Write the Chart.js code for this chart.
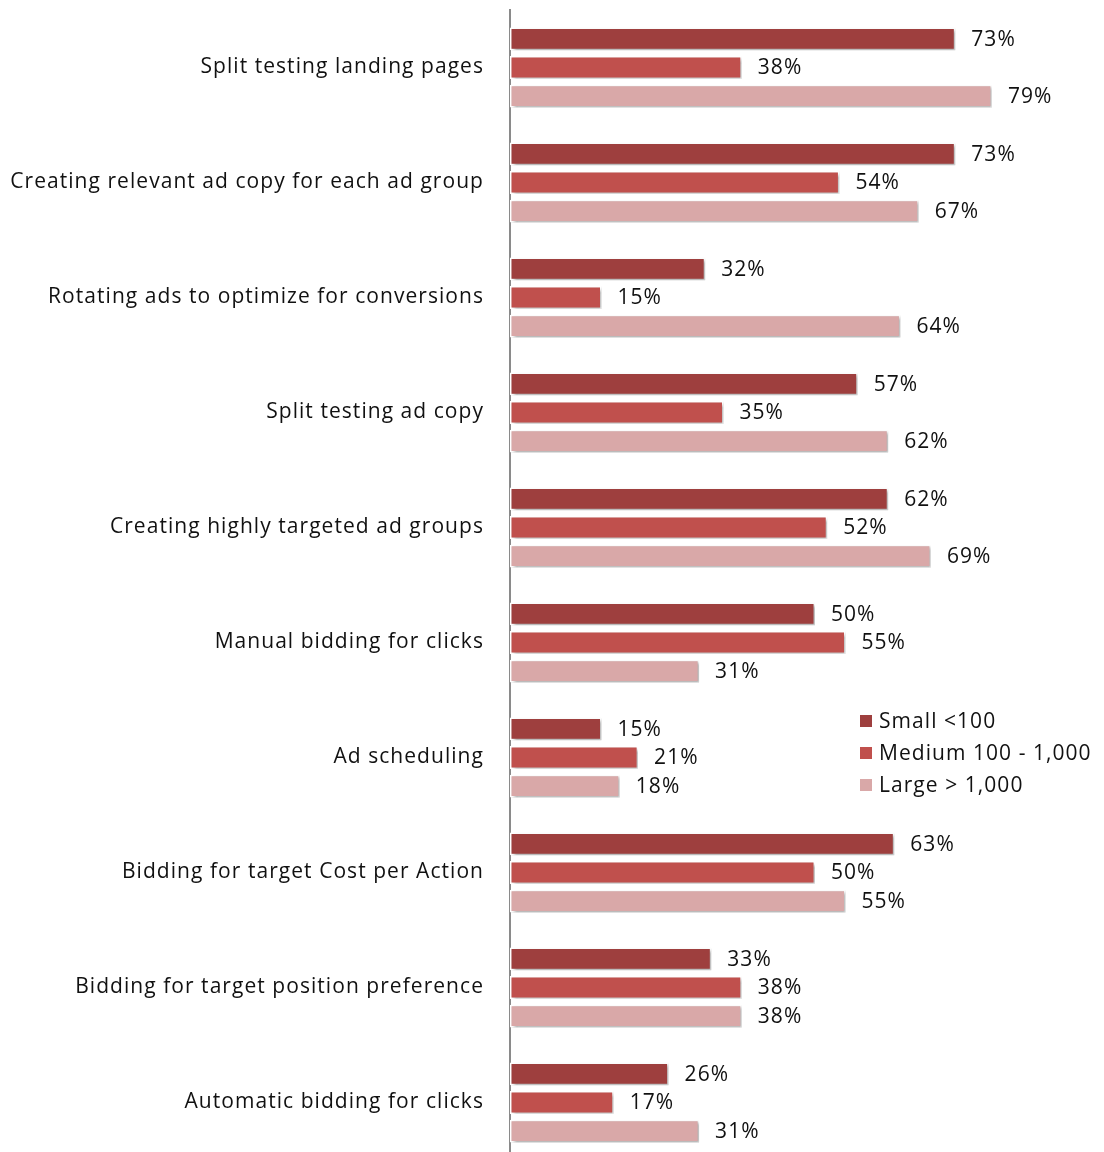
<!DOCTYPE html>
<html>
<head>
<meta charset="utf-8">
<script src="https://cdn.jsdelivr.net/npm/chart.js@4.4.0/dist/chart.umd.min.js"></script>
<style>
html,body{margin:0;padding:0;background:#fff;overflow:hidden;}
#wrap{width:1104px;height:1162px;position:relative;}
</style>
</head>
<body>
<div id="wrap"><canvas id="c"></canvas></div>
<script>
const categories = [
  "Split testing landing pages",
  "Creating relevant ad copy for each ad group",
  "Rotating ads to optimize for conversions",
  "Split testing ad copy",
  "Creating highly targeted ad groups",
  "Manual bidding for clicks",
  "Ad scheduling",
  "Bidding for target Cost per Action",
  "Bidding for target position preference",
  "Automatic bidding for clicks"
];
const seriesNames = ["Small <100", "Medium 100 - 1,000", "Large > 1,000"];
const smallValues  = [73, 73, 32, 57, 62, 50, 15, 63, 33, 26];
const mediumValues = [38, 54, 15, 35, 52, 55, 21, 50, 38, 17];
const largeValues  = [79, 67, 64, 62, 69, 31, 18, 55, 38, 31];
const colors = ["#9E3F3E", "#C0504D", "#D9A8A8"];

const FONT = "'Open Sans', sans-serif";
const FSIZE = 21;
const SPACING = "1.05px";

const spacingPlugin = {
  id: 'letterSpacing',
  beforeDraw(chart) {
    chart.ctx.letterSpacing = SPACING;
  }
};

const shadowPlugin = {
  id: 'barShadow',
  beforeDatasetsDraw(chart) {
    const ctx = chart.ctx;
    ctx.save();
    ctx.shadowColor = 'rgba(0,0,0,0.33)';
    ctx.shadowOffsetX = 2;
    ctx.shadowOffsetY = 2;
    ctx.shadowBlur = 3;
  },
  afterDatasetsDraw(chart) {
    chart.ctx.restore();
  }
};

const labelPlugin = {
  id: 'valueLabels',
  afterDatasetsDraw(chart) {
    const ctx = chart.ctx;
    ctx.save();
    ctx.letterSpacing = SPACING;
    ctx.font = FSIZE + "px " + FONT;
    ctx.fillStyle = "#111";
    ctx.textAlign = "left";
    ctx.textBaseline = "middle";
    chart.data.datasets.forEach((ds, i) => {
      const meta = chart.getDatasetMeta(i);
      meta.data.forEach((bar, j) => {
        ctx.fillText(ds.data[j] + "%", bar.x + 16, bar.y + 1);
      });
    });
    ctx.restore();
  }
};

const legendPlugin = {
  id: 'customLegend',
  afterDraw(chart) {
    const ctx = chart.ctx;
    ctx.save();
    ctx.letterSpacing = SPACING;
    ctx.font = FSIZE + "px " + FONT;
    ctx.textBaseline = "middle";
    ctx.textAlign = "left";
    const x0 = 860, y0 = 721, dy = 32;
    chart.data.datasets.forEach((ds, i) => {
      const y = y0 + i * dy;
      ctx.fillStyle = ds.backgroundColor;
      ctx.fillRect(x0, y - 6, 12, 12);
      ctx.fillStyle = "#111";
      ctx.fillText(ds.label, x0 + 19, y + 1);
    });
    ctx.restore();
  }
};

const chart = new Chart(document.getElementById('c'), {
  type: 'bar',
  data: {
    labels: categories,
    datasets: [
      { label: seriesNames[0], data: smallValues,  backgroundColor: colors[0] },
      { label: seriesNames[1], data: mediumValues, backgroundColor: colors[1] },
      { label: seriesNames[2], data: largeValues,  backgroundColor: colors[2] }
    ]
  },
  options: {
    indexAxis: 'y',
    responsive: true,
    maintainAspectRatio: false,
    animation: false,
    devicePixelRatio: 1,
    datasets: {
      bar: {
        categoryPercentage: 0.745,
        barPercentage: 0.8,
        borderColor: '#ffffff',
        borderWidth: 1.5,
        borderSkipped: false
      }
    },
    layout: { padding: { top: 10, bottom: 2, left: 0, right: 45 } },
    plugins: {
      legend: { display: false },
      tooltip: { enabled: false }
    },
    scales: {
      x: {
        display: false,
        min: 0,
        max: 90
      },
      y: {
        afterFit(scale) {
          scale.width = 510;
          scale.paddingTop = 0;
          scale.paddingBottom = 0;
        },
        grid: { display: false, drawTicks: false },
        border: { display: true, color: '#8a8a8a', width: 2 },
        ticks: {
          padding: 26,
          color: '#111',
          font: { family: FONT, size: FSIZE }
        }
      }
    }
  },
  plugins: [spacingPlugin, shadowPlugin, labelPlugin, legendPlugin]
});
</script>
</body>
</html>
